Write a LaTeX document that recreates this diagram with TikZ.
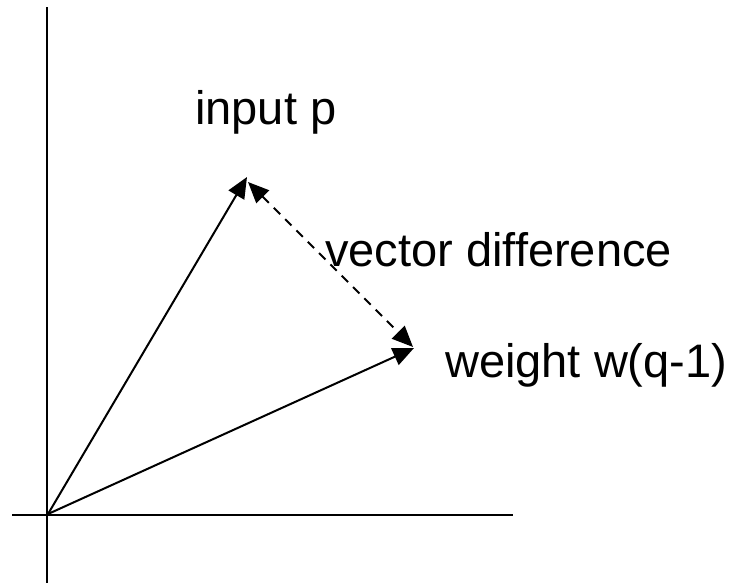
\documentclass[tikz,border=0pt]{standalone}
\usepackage{fontspec}
\setmainfont{Liberation Sans}
\usetikzlibrary{arrows.meta}
\begin{document}
\begin{tikzpicture}[x=1pt,y=-1pt,
  axis/.style={line width=2pt},
  tip/.style={},
  vec/.style={line width=2pt,-{Triangle[length=21pt,width=18pt]}},
  diff/.style={line width=2pt,dash pattern=on 9pt off 7pt,{Triangle[length=21pt,width=18pt]}-{Triangle[length=21pt,width=18pt]}},
  lbl/.style={anchor=base west,inner sep=0pt,font=\fontsize{47}{56}\selectfont}]
\useasboundingbox (0,0) rectangle (733,584);
\coordinate (ytop) at (47,7);
\coordinate (ybot) at (47,583);
\coordinate (xl) at (12,515);
\coordinate (xr) at (513,515);
\coordinate (o) at (48,514);
\coordinate (p) at (247,177);
\coordinate (w) at (414,348);
\draw[axis] (ytop) -- (ybot);
\draw[axis] (xl) -- (xr);
\draw[vec] (o) -- (p);
\draw[vec] (o) -- (w);
\draw[diff] ([shift={(1,5)}]p) -- ([shift={(-1,-1)}]w);
\node[lbl] (lp) at (195,124) {input p};
\node[lbl] (ld) at (325,266) {vector difference};
\node[lbl] (lw) at (445,377) {weight w(q-1)};
\end{tikzpicture}
\end{document}
